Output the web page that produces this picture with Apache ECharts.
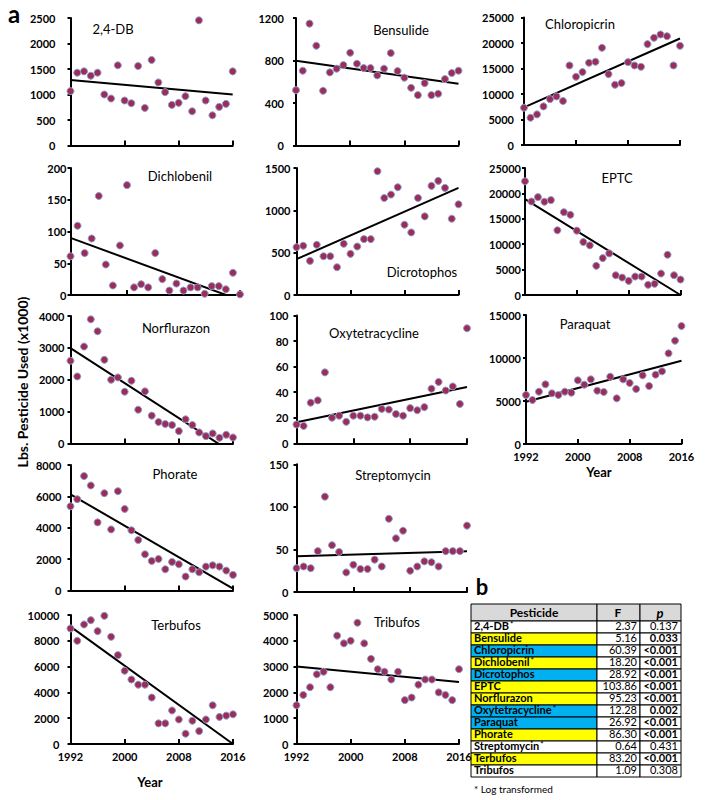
<!DOCTYPE html>
<html><head><meta charset="utf-8">
<script src="https://cdn.jsdelivr.net/npm/echarts@6/dist/echarts.min.js"></script>
<style>html,body{margin:0;padding:0;background:#fff}#c{width:709px;height:800px}</style>
</head><body><div id="c"></div>
<script>
// ---------- DATA ----------
const years = [1992,1993,1994,1995,1996,1997,1998,1999,2000,2001,2002,2003,2004,2005,2006,2007,2008,2009,2010,2011,2012,2013,2014,2015,2016];
const names = ['2,4-DB','Bensulide','Chloropicrin','Dichlobenil','Dicrotophos','EPTC','Norflurazon','Oxytetracycline','Paraquat','Phorate','Streptomycin','Terbufos','Tribufos'];

const v_24DB = [1066,1428,1454,1368,1428,1000,921,1572,882,829,1559,737,1678,1237,1046,796,836,967,671,2454,882,592,757,816,1454];
const v_Bensulide = [521,704,1147,939,515,688,723,757,873,770,729,729,660,723,870,701,638,543,474,587,474,487,625,682,704];
const v_Chloropicrin = [7310,5350,6000,7570,9000,9530,8620,15600,13380,14300,16120,16320,19060,13900,11810,12140,16250,15600,15340,19780,21020,21670,21340,15600,19450];
const v_Dichlobenil = [61,109,66,89,156,48,15,78,173,12,17,12,66,25,7,18,7,12,12,2,14,14,9,35,1];
const v_Dicrotophos = [565,581,403,593,458,458,328,605,486,573,660,660,1462,1146,1186,1273,830,739,1146,929,1289,1348,1265,901,1071];
const v_EPTC = [22380,18400,19270,18350,18680,12740,16300,15780,12670,10430,9770,5740,7260,8190,3890,3430,2780,3630,3630,2000,2200,4220,7920,3890,3040];
const v_Norflurazon = [2594,2104,3042,3896,3521,2625,2000,2073,1625,1969,1060,1635,874,674,611,579,389,758,579,347,232,316,179,274,189];
const v_Oxytetracycline = [14.7,13.6,31.8,33.6,55.5,20,21.6,16.8,21.6,21.6,20.3,20.8,26.9,26.4,22.9,21.6,27.5,25.9,28.3,42.7,48,41.3,44.5,30.8,90];
const v_Paraquat = [5698,5116,6085,6938,5891,5698,6085,5969,7403,6899,7519,6201,6047,7829,5310,7519,7093,6395,7984,6744,8062,8450,10543,12016,13721];
const v_Phorate = [5369,5818,7294,6695,4342,6203,3893,6332,5198,3840,3217,2307,1884,2011,1354,1820,1672,889,1354,1164,1524,1608,1524,1270,995];
const v_Streptomycin = [28,30,28,48,112,55,47,23,32,27,27,38,30,86,63,72,25,30,36,35,30,48,48,48,78];
const v_Terbufos = [8955,8000,9265,9600,8748,9935,8310,6890,5677,5000,4600,4600,3600,1600,1600,2600,1900,800,1800,1000,1900,3000,2100,2200,2300];
const v_Tribufos = [1500,1900,2200,2700,2800,2200,4200,3900,4000,4700,3900,3300,2900,2800,2500,2800,1700,1800,2300,2500,2500,2000,1900,1700,2900];

const seriesValues = [v_24DB,v_Bensulide,v_Chloropicrin,v_Dichlobenil,v_Dicrotophos,v_EPTC,v_Norflurazon,v_Oxytetracycline,v_Paraquat,v_Phorate,v_Streptomycin,v_Terbufos,v_Tribufos];

// trend line values at 1992 and 2016 (clipped at 0 by the axis)
const trendStart = [1283,798,7380,90,423,18880,2990,16.4,4922,6130,42,9100,3000];
const trendEnd   = [1000,581,20890,-8,1265,0,-300,44,9690,120,48,0,2400];

const yMax  = [2500,1200,25000,200,1500,25000,4000,100,15000,8000,150,10000,5000];
const yStep = [500,400,5000,50,500,5000,1000,20,5000,2000,50,2000,1000];
const xMin = 1992, xMax = 2016, xStep = 8;

// table (panel b)
const tblHeader = ['Pesticide','F','p'];
const tblNames = ['2,4-DB','Bensulide','Chloropicrin','Dichlobenil','Dicrotophos','EPTC','Norflurazon','Oxytetracycline','Paraquat','Phorate','Streptomycin','Terbufos','Tribufos'];
const tblLog = [true,false,false,true,false,false,false,true,false,false,true,false,false];
const tblF = ['2.37','5.16','60.39','18.20','28.92','103.86','95.23','12.28','26.92','86.30','0.64','83.20','1.09'];
const tblP = ['0.137','0.033','<0.001','<0.001','<0.001','<0.001','<0.001','0.002','<0.001','<0.001','0.431','<0.001','0.308'];
const tblSig = [false,true,true,true,true,true,true,true,true,true,false,true,false];
const tblFill = ['none','yellow','blue','yellow','blue','yellow','yellow','blue','blue','yellow','none','yellow','none'];
const tblNote = '* Log transformed';

// ---------- LAYOUT ----------
const FONT = 'Lato, "Open Sans", sans-serif';
// [x0, x1, top, bottom, labelMargin, showXLabels, titleX, titleY]
const boxes = [
  [70.5,232.7,18,145.5,15,false,113,29],
  [296,458.5,18,145.5,12,false,401,30],
  [524,680,17.5,145,10,false,580,24],
  [70.5,240,168,295,4,false,180,176],
  [296.5,458.5,168,295,6,false,422,272],
  [525,680.5,168,295,4,false,617,178],
  [70.5,233,316,443.5,6,false,176,328],
  [296.5,467,315.5,443.3,8,false,374,333],
  [526,681.5,315,444,5,true,585,324],
  [70.5,233,465,590.5,9,false,175,474],
  [296.5,467,464.3,592,8,false,393,475],
  [70.5,233,615,744,11,true,176,625],
  [296.5,459,615,744,8,true,397,622]
];
const colorMap = {yellow:'#ffff00', blue:'#00b0f0', none:'#ffffff'};
const plain = v => String(v);

const grids=[], xAxes=[], yAxes=[], series=[], graphics=[];
boxes.forEach((b,i)=>{
  grids.push({left:b[0], top:b[2], width:b[1]-b[0], height:b[3]-b[2], containLabel:false});
  xAxes.push({gridIndex:i,type:'value',min:xMin,max:xMax,interval:xStep,
    axisLine:{show:true,onZero:false,lineStyle:{color:'#000',width:2}},
    axisTick:{show:true,inside:true,length:5,lineStyle:{color:'#000',width:2}},
    axisLabel:{show:b[5],color:'#000',fontWeight:'bold',fontSize:11,fontFamily:FONT,margin:7,formatter:plain},
    splitLine:{show:false}});
  yAxes.push({gridIndex:i,type:'value',min:0,max:yMax[i],interval:yStep[i],
    axisLine:{show:true,onZero:false,lineStyle:{color:'#000',width:2}},
    axisTick:{show:true,length:3,lineStyle:{color:'#000',width:2}},
    axisLabel:{color:'#000',fontWeight:'bold',fontSize:11,fontFamily:FONT,margin:b[4],formatter:plain},
    splitLine:{show:false}});
  series.push({type:'line',xAxisIndex:i,yAxisIndex:i,data:[[xMin,trendStart[i]],[xMax,trendEnd[i]]],
    symbol:'none',clip:true,silent:true,lineStyle:{color:'#000',width:2},z:2});
  series.push({type:'scatter',xAxisIndex:i,yAxisIndex:i,data:years.map((y,k)=>[y,seriesValues[i][k]]),
    symbolSize:7,itemStyle:{color:'#9c2d55',borderColor:'#8f9bd0',borderWidth:1,opacity:1},z:3,silent:true});
  graphics.push({type:'text',x:b[6],y:b[7],style:{text:names[i],font:'13px '+FONT,fill:'#000',
    align:'center',verticalAlign:'middle',textAlign:'center',textVerticalAlign:'middle'}});
});

function txt(x,y,text,font,align){
  return {type:'text',x:x,y:y,style:{text:text,font:font,fill:'#000',
    align:align||'left',verticalAlign:'middle',textAlign:align||'left',textVerticalAlign:'middle'}};
}
// labels
graphics.push(txt(14,13,'a','bold 24px '+FONT,'center'));
graphics.push(txt(482,586,'b','bold 22px '+FONT,'center'));
graphics.push({type:'text',x:22,y:382,rotation:Math.PI/2,style:{text:'Lbs. Pesticide Used (x1000)',
  font:'bold 14px '+FONT,fill:'#000',align:'center',verticalAlign:'middle',textAlign:'center',textVerticalAlign:'middle'}});
graphics.push(txt(150,782,'Year','bold 13px '+FONT,'center'));
graphics.push(txt(599,472,'Year','bold 13px '+FONT,'center'));

// table
const cx = [471,597,640,681];
const hTop = 604, hH = 17, rH = 12;
for(let c=0;c<3;c++){
  graphics.push({type:'rect',shape:{x:cx[c],y:hTop,width:cx[c+1]-cx[c],height:hH},
    style:{fill:'#d9d9d9',stroke:'#000',lineWidth:1}});
}
graphics.push(txt(534,hTop+hH/2,tblHeader[0],'bold 12px '+FONT,'center'));
graphics.push(txt(618,hTop+hH/2,tblHeader[1],'bold 12px '+FONT,'center'));
graphics.push(txt(660,hTop+hH/2,tblHeader[2],'italic bold 13px '+FONT,'center'));
tblNames.forEach((n,r)=>{
  const y = hTop+hH+r*rH;
  graphics.push({type:'rect',shape:{x:cx[0],y:y,width:cx[1]-cx[0],height:rH},
    style:{fill:colorMap[tblFill[r]],stroke:'#000',lineWidth:1}});
  graphics.push({type:'rect',shape:{x:cx[1],y:y,width:cx[2]-cx[1],height:rH},
    style:{fill:'#fff',stroke:'#000',lineWidth:1}});
  graphics.push({type:'rect',shape:{x:cx[2],y:y,width:cx[3]-cx[2],height:rH},
    style:{fill:'#fff',stroke:'#000',lineWidth:1}});
});
tblNames.forEach((n,r)=>{
  const y = hTop+hH+r*rH;
  const cy = y+rH/2-1.5;
  const nm = tblLog[r] ? '{n|'+n+'}{s|*}' : '{n|'+n+'}';
  graphics.push({type:'text',x:cx[0]+3,y:cy,z:10,style:{text:nm,fill:'#000',
    align:'left',verticalAlign:'middle',textAlign:'left',textVerticalAlign:'middle',
    rich:{n:{font:'bold 11px '+FONT,fill:'#000',lineHeight:12},
          s:{font:'bold 8px '+FONT,fill:'#000',lineHeight:12,verticalAlign:'top',padding:[0,0,5,1]}}}});
  graphics.push(txt(cx[2]-3,cy,tblF[r],'11px '+FONT,'right'));
  graphics.push(txt(cx[3]-3,cy,tblP[r],(tblSig[r]?'bold ':'')+'11px '+FONT,'right'));
});
graphics.push(txt(474,789,tblNote,'10px '+FONT,'left'));

const chart = echarts.init(document.getElementById('c'),null,{renderer:'svg'});
chart.setOption({animation:false,backgroundColor:'#fff',grid:grids,xAxis:xAxes,yAxis:yAxes,series:series,graphic:{elements:graphics}});
</script></body></html>
